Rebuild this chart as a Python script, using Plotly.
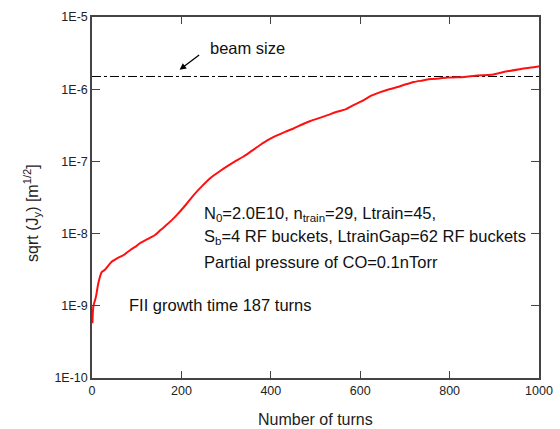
import plotly.graph_objects as go

turns = [1, 3, 9, 14, 22, 29, 44, 57, 70, 85, 100, 108, 123, 141, 152, 165, 179, 190, 210, 227,
         245, 265, 285, 302, 320, 339, 358, 377, 395, 414, 432, 452, 470, 489, 508, 527, 550, 567,
         585, 608, 625, 645, 665, 683, 700, 720, 740, 758, 777, 796, 815, 833, 863, 893, 923, 960,
         994, 1000]
sqrt_jy = [5.75e-10, 9.77e-10, 1.35e-9, 2.04e-9, 2.95e-9, 3.16e-9, 4.07e-9, 4.57e-9, 5.01e-9,
           5.89e-9, 6.76e-9, 7.41e-9, 8.32e-9, 9.55e-9, 1.10e-8, 1.29e-8, 1.55e-8, 1.82e-8,
           2.51e-8, 3.39e-8, 4.47e-8, 5.89e-8, 7.24e-8, 8.51e-8, 1.0e-7, 1.17e-7, 1.41e-7,
           1.70e-7, 2.0e-7, 2.29e-7, 2.57e-7, 2.88e-7, 3.24e-7, 3.63e-7, 3.98e-7, 4.37e-7,
           4.90e-7, 5.25e-7, 6.03e-7, 7.08e-7, 8.13e-7, 9.12e-7, 1.0e-6, 1.07e-6, 1.16e-6,
           1.26e-6, 1.32e-6, 1.38e-6, 1.41e-6, 1.45e-6, 1.46e-6, 1.48e-6, 1.55e-6, 1.58e-6,
           1.74e-6, 1.91e-6, 2.04e-6, 2.09e-6]
beam_x = [0, 1000]
beam_y = [1.5e-6, 1.5e-6]
ytick_vals = [1e-10, 1e-9, 1e-8, 1e-7, 1e-6, 1e-5]
ytick_text = ["1E-10", "1E-9", "1E-8", "1E-7", "1E-6", "1E-5"]
ytick_minor = [m * 10.0 ** e for e in range(-10, -5) for m in range(2, 10)]
xtick_vals = [0, 200, 400, 600, 800, 1000]
xtick_minor = [100, 300, 500, 700, 900]

FONT = "Liberation Sans, Arial, sans-serif"
LC = "#444"

fig = go.Figure()
fig.add_trace(go.Scatter(x=beam_x, y=beam_y, mode="lines",
                         line=dict(color="black", width=1, dash="dashdot"), showlegend=False))
fig.add_trace(go.Scatter(x=turns, y=sqrt_jy, mode="lines",
                         line=dict(color="#ff1010", width=2, shape="spline", smoothing=0.6),
                         showlegend=False))

axis_common = dict(showgrid=False, zeroline=False, showline=True, linecolor=LC,
                   linewidth=1.5, mirror="allticks", ticks="inside", tickcolor=LC,
                   automargin=False, tickfont=dict(family=FONT, size=12.5, color="#222"))

fig.update_layout(
    xaxis=dict(range=[0, 1000], tickvals=xtick_vals, ticklen=7, **axis_common),
    yaxis=dict(type="log", range=[-10, -5], tickvals=ytick_vals, ticktext=ytick_text, ticklen=8,
               **axis_common),
    xaxis2=dict(overlaying="x", anchor="y", side="bottom", range=[0, 1000], tickvals=xtick_minor,
                showticklabels=False, ticks="inside", ticklen=4, tickcolor=LC, showline=True,
                linecolor=LC, linewidth=1.5, mirror="allticks", showgrid=False, zeroline=False,
                automargin=False),
    yaxis2=dict(overlaying="y", anchor="x", side="left", type="log", range=[-10, -5],
                tickvals=ytick_minor, showticklabels=False, ticks="inside", ticklen=4,
                tickcolor=LC, showline=True, linecolor=LC, linewidth=1.5, mirror="allticks",
                showgrid=False, zeroline=False, automargin=False),
)

# axis titles
fig.add_annotation(x=0.5, y=-0.116, xref="paper", yref="paper", text="Number of turns",
                   showarrow=False, xanchor="center", yanchor="middle",
                   font=dict(family=FONT, size=16, color="#222"))
fig.add_annotation(x=-0.1345, y=0.457, xref="paper", yref="paper",
                   text="sqrt (J<sub>y</sub>) [m<sup>1/2</sup>]", textangle=-90,
                   showarrow=False, xanchor="center", yanchor="middle",
                   font=dict(family=FONT, size=16, color="#222"))

tf = dict(family=FONT, size=16.5, color="#111")
fig.add_annotation(x=259, y=-5.43, xref="x", yref="y", text="beam size", showarrow=False,
                   xanchor="left", yanchor="middle", font=tf)
fig.add_annotation(x=196, y=-5.73, xref="x", yref="y", ax=243, ay=-5.51, axref="x", ayref="y",
                   text="", showarrow=True, arrowhead=2, arrowsize=1, arrowwidth=1.3,
                   arrowcolor="black")
lines = ["N<sub>0</sub>=2.0E10, n<sub>train</sub>=29, Ltrain=45,",
         "S<sub>b</sub>=4 RF buckets, LtrainGap=62 RF buckets",
         "Partial pressure of CO=0.1nTorr"]
ys = [-7.73, -8.05, -8.39]
for t, yv in zip(lines, ys):
    fig.add_annotation(x=245, y=yv, xref="x", yref="y", text=t, showarrow=False,
                       xanchor="left", yanchor="middle", font=tf)
fig.add_annotation(x=78, y=-8.99, xref="x", yref="y", text="FII growth time 187 turns",
                   showarrow=False, xanchor="left", yanchor="middle", font=tf)

fig.update_layout(width=560, height=429, margin=dict(l=92, r=21, t=17, b=51),
                  paper_bgcolor="white", plot_bgcolor="white", showlegend=False)
fig.write_html("out.html")
